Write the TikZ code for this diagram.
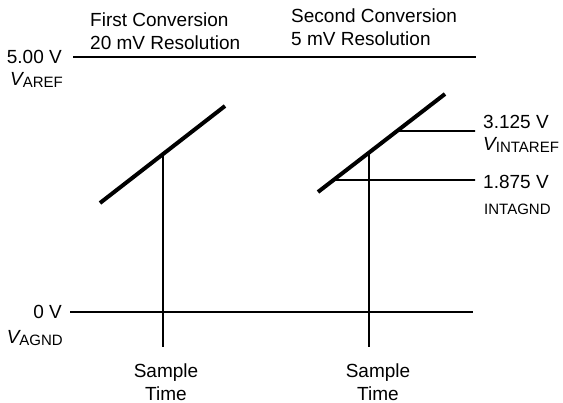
\documentclass[tikz,border=0pt]{standalone}
\usepackage{fontspec}
\setmainfont{Liberation Sans}
\usepackage{tikz}

\newcommand{\vsub}[1]{{\itshape V}\raisebox{-2pt}{\fontsize{15}{15}\selectfont #1}}

\begin{document}
\begin{tikzpicture}[
  x=1pt,y=-1pt,
  level/.style={line width=1.8pt},
  ramp/.style={line width=4pt},
  tick/.style={line width=1.6pt},
  lbl/.style={inner sep=0pt,font=\fontsize{19}{23}\selectfont,align=left},
  small/.style={inner sep=0pt,font=\fontsize{15}{15}\selectfont}
]
\useasboundingbox (0,0) rectangle (563,403);

% reference levels
\coordinate (arefL) at (73,57);
\coordinate (arefR) at (476,57);
\coordinate (agndL) at (70,312);
\coordinate (agndR) at (473,312);
\draw[level] (arefL) -- (arefR);
\draw[level] (agndL) -- (agndR);
\node[lbl,anchor=east] (aref) at (62,57) {5.00 V};
\node[lbl,anchor=east] (arefname) at (63,80) {\vsub{AREF}};
\node[lbl,anchor=east] (agnd) at (62,312) {0 V};
\node[lbl,anchor=east] (agndname) at (63,338) {\vsub{AGND}};

% first conversion
\node[lbl,anchor=west] (first) at (90,31) {First Conversion\\20 mV Resolution};
\coordinate (r1a) at (100,203);
\coordinate (r1b) at (225,106);
\draw[ramp] (r1a) -- (r1b);
\coordinate (s1) at (163,347);
\coordinate (s1top) at (intersection of r1a--r1b and s1--163,100);
\draw[tick] (s1top) -- (s1);
\node[lbl,align=center] (sample1) at (166,382) {Sample\\Time};

% second conversion
\node[lbl,anchor=west] (second) at (291,27) {Second Conversion\\5 mV Resolution};
\coordinate (r2a) at (318,192);
\coordinate (r2b) at (445,94);
\draw[ramp] (r2a) -- (r2b);
\coordinate (s2) at (369,347);
\coordinate (s2top) at (intersection of r2a--r2b and s2--369,100);
\draw[tick] (s2top) -- (s2);
\node[lbl,align=center] (sample2) at (378,382) {Sample\\Time};

% intermediate references
\coordinate (irefR) at (475,131);
\coordinate (igndR) at (475,180);
\coordinate (irefL) at (intersection of r2a--r2b and irefR--300,131);
\coordinate (igndL) at (intersection of r2a--r2b and igndR--300,180);
\draw[tick] (irefL) -- (irefR);
\draw[tick] (igndL) -- (igndR);
\node[lbl,anchor=west] (iref) at (483,122) {3.125 V};
\node[lbl,anchor=west] (irefname) at (483,145) {\vsub{INTAREF}};
\node[lbl,anchor=west] (ignd) at (483,182) {1.875 V};
\node[small,anchor=west] (igndname) at (484,209) {INTAGND};
\end{tikzpicture}
\end{document}
